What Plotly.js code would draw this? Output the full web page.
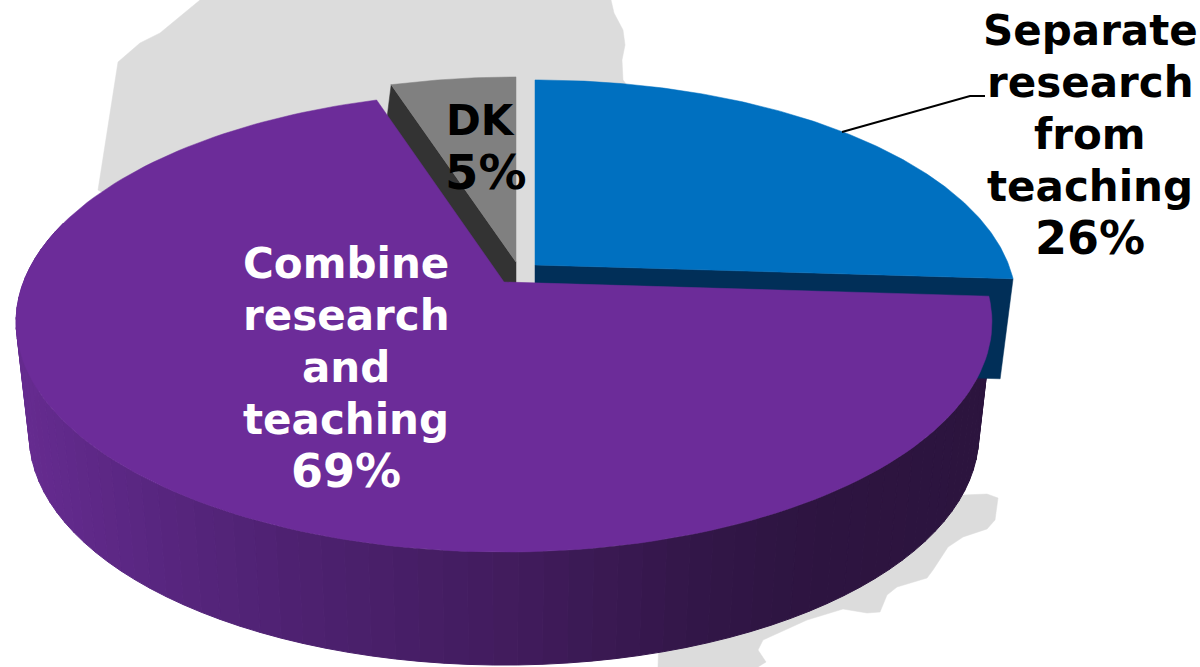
<!DOCTYPE html>
<html>
<head>
<meta charset="utf-8">
<script src="https://cdn.plot.ly/plotly-3.0.1.min.js"></script>
<style>html,body{margin:0;padding:0;background:#fff;overflow:hidden}#chart{width:1200px;height:667px}</style>
</head>
<body>
<div id="chart"></div>
<script>
// Data, in drawing order clockwise from twelve o'clock
const categories = ["Separate research from teaching", "Combine research and teaching", "DK"];
const shares = [26, 69, 5];

// Label lines
const separateLines = ["Separate", "research", "from", "teaching"];
const separatePct = "26%";
const combineLines = ["Combine", "research", "and", "teaching"];
const combinePct = "69%";
const dkLine = "DK";
const dkPct = "5%";

// Decorative map silhouette behind the pie
const mapX = [200,160,140,118,98,300,660,658,758,766,758,763,807,843,867,880,887,897,927,933,948,963,987,995,998,987,963,800,623,622,625,623,614,611];
const mapY = [0,33,43,62,190,300,600,667,667,662,650,640,620,609,613,612,595,587,578,570,547,537,529,520,498,494,495,300,80,60,45,30,13,0];

// Leader line for the blue slice
const leaderX = [842, 970, 985];
const leaderY = [132, 96, 96];

// Projection of a tilted disc, seen in perspective
const CX = 504, KX = 480.5, APEX_Y = 282, A = -174, C = 0.174;
const BOTTOM_X = 0.973;
const rad = d => d * Math.PI / 180;
function rim(deg, o) {
  const u = Math.sin(rad(deg)), v = Math.cos(rad(deg)), w = 1 + C * v;
  const x = KX * u / w, y = (A * v + APEX_Y) / w - APEX_Y;
  return [CX + o.dx + x * o.sx * (o.low ? (o.lowX || BOTTOM_X) : 1), APEX_Y + o.dy + y * o.sy + (o.low ? o.depth : 0)];
}
function apex(o) { return [CX + o.dx, APEX_Y + o.dy + (o.low ? (o.apexDepth || o.depth) : 0)]; }
const poly = (pts, color, w) => ({
  type: "scatter", mode: "lines", x: pts.map(p => p[0]), y: pts.map(p => p[1]),
  fill: "toself", fillcolor: color, line: {color: color, width: w || 0.5}, hoverinfo: "skip", showlegend: false
});
function face(a0, a1, o, color, name) {
  const pts = [apex(o)];
  for (let i = 0; i <= 160; i++) pts.push(rim(a0 + (a1 - a0) * i / 160, o));
  pts.push(apex(o));
  const t = poly(pts, color);
  t.name = name;
  return t;
}

// Slice angles follow from the shares
const total = shares.reduce((a, b) => a + b, 0);
let run = 0;
const angles = shares.map(s => { const a = run; run += s / total * 360; return [a, run]; });
const [blueA, purpleA, greyA] = angles;

const blueO = {dx: 31, dy: -17, sx: 0.986, sy: 0.974, depth: 100};
const purpleO = {dx: 0, dy: 0, sx: 1, sy: 1, depth: 113};
const greyO = {dx: 12, dy: -20, sx: 0.98, sy: 0.974, depth: 35, apexDepth: 40, lowX: 1.035};
const low = o => Object.assign({}, o, {low: true});

const traces = [];
traces.push(poly(mapX.map((x, i) => [x, mapY[i]]).concat([[mapX[0], mapY[0]]]), "#dcdcdc"));

// DK cut wall
const gA = greyA[0];
traces.push(poly([apex(greyO), rim(gA, greyO), rim(gA, low(greyO)), apex(low(greyO)), apex(greyO)], "#333333"));
traces.push(face(greyA[0], greyA[1], greyO, "#808080", categories[2]));

// Purple outer wall, banded from light at the left to dark at the right
const stops = [[20,[101,43,143]],[150,[88,38,128]],[300,[77,33,112]],[500,[66,28,94]],[700,[50,22,72]],[820,[45,20,64]],[1000,[44,20,62]]];
function wallColor(x) {
  for (let i = 1; i < stops.length; i++) {
    if (x <= stops[i][0]) {
      const f = Math.max(0, (x - stops[i-1][0]) / (stops[i][0] - stops[i-1][0]));
      const c = stops[i-1][1].map((v, k) => Math.round(v + (stops[i][1][k] - v) * f));
      return "rgb(" + c.join(",") + ")";
    }
  }
  return "rgb(44,20,62)";
}
const WALL_STEP = 2.5;
for (let a = purpleA[0]; a < 285; a += WALL_STEP) {
  const b = a + WALL_STEP;
  const p = [rim(a, purpleO), rim(b, purpleO), rim(b, low(purpleO)), rim(a, low(purpleO))];
  p.push(p[0]);
  traces.push(poly(p, wallColor((p[0][0] + p[1][0]) / 2), 1));
}

// Blue wall and face
const bEnd = blueA[1];
traces.push(poly([apex(blueO), rim(bEnd, blueO), rim(bEnd, low(blueO)), apex(low(blueO)), apex(blueO)], "#012f58"));
traces.push(face(blueA[0], blueA[1], blueO, "#0070c0", categories[0]));

// Purple face sits over everything behind it
traces.push(face(purpleA[0], purpleA[1], purpleO, "#6c2c99", categories[1]));

// Leader
traces.push({type: "scatter", mode: "lines", x: leaderX, y: leaderY, line: {color: "#000", width: 2}, hoverinfo: "skip", showlegend: false});

const FONT = "'DejaVu Sans', Verdana, sans-serif";
const label = (txt, x, y, color, size) => ({
  text: "<b>" + txt + "</b>", x: x, y: y, xref: "x", yref: "y", showarrow: false,
  xanchor: "center", yanchor: "middle", font: {family: FONT, size: size || 42, color: color}
});
const annotations = [];
separateLines.forEach((t, i) => annotations.push(label(t, 1090, 30 + 52 * i, "#000")));
annotations.push(label(separatePct, 1090, 238, "#000", 46));
combineLines.forEach((t, i) => annotations.push(label(t, 346, 263 + 52 * i, "#fff")));
annotations.push(label(combinePct, 346, 471, "#fff", 46));
annotations.push(label(dkLine, 480, 120, "#000"));
annotations.push(label(dkPct, 486, 172, "#000", 48));

const layout = {
  width: 1200, height: 667, margin: {l: 0, r: 0, t: 0, b: 0},
  paper_bgcolor: "#fff", plot_bgcolor: "#fff", showlegend: false, hovermode: false,
  xaxis: {range: [0, 1200], visible: false, fixedrange: true},
  yaxis: {range: [667, 0], visible: false, fixedrange: true},
  annotations: annotations
};
Plotly.newPlot("chart", traces, layout, {displayModeBar: false, staticPlot: true});
</script>
</body>
</html>
